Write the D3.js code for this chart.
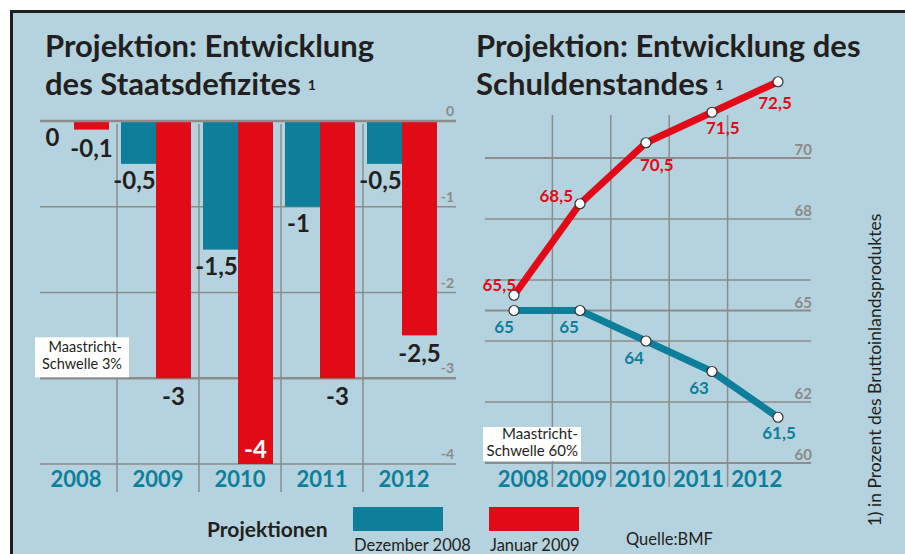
<!DOCTYPE html>
<html><head><meta charset="utf-8">
<script src="https://cdn.jsdelivr.net/npm/d3@7"></script>
<style>
body{margin:0;background:#fff;}
svg{display:block;font-family:Lato,"Open Sans",sans-serif;}
</style>
</head><body>
<svg id="c" width="905" height="554"></svg>
<script>
// ---------- data ----------
const years = ["2008", "2009", "2010", "2011", "2012"];
const seriesNames = ["Dezember 2008", "Januar 2009"];
const deficitDez = [0, -0.5, -1.5, -1, -0.5];
const deficitJan = [-0.1, -3, -4, -3, -2.5];
const deficitTicks = [0, -1, -2, -3, -4];
const debtDez = [65, 65, 64, 63, 61.5];
const debtJan = [65.5, 68.5, 70.5, 71.5, 72.5];
const debtGrid = [70, 68, 66, 65, 64, 62, 60];
const debtTickLabels = [70, 68, 65, 62, 60];
const deficitThreshold = -3;
const debtThreshold = 60;
const titleLeft = ["Projektion: Entwicklung", "des Staatsdefizites"];
const titleRight = ["Projektion: Entwicklung des", "Schuldenstandes"];
const footnote = "1) in Prozent des Bruttoinlandsproduktes";
const source = "Quelle:BMF";
const legendTitle = "Projektionen";
const thresholdLeftText = ["Maastricht-", "Schwelle 3%"];
const thresholdRightText = ["Maastricht-", "Schwelle 60%"];

// label placement around line points (layout only)
const janLabelPlace = [
  {a: "end", dx: 2, dy: -4}, {a: "end", dx: -7, dy: -2},
  {a: "start", dx: -6, dy: 28}, {a: "start", dx: -6, dy: 22}, {a: "middle", dx: -3, dy: 27}
];
const dezLabelPlace = [
  {a: "middle", dx: -10, dy: 22}, {a: "middle", dx: -11, dy: 22},
  {a: "middle", dx: -12, dy: 23}, {a: "middle", dx: -13, dy: 22}, {a: "middle", dx: 1, dy: 22}
];

// ---------- style ----------
const C = {bg: "#b5d3df", teal: "#0e7f9b", red: "#e20a17", grid: "#8c8c8c",
           tick: "#8a8a8a", text: "#231f20", border: "#1e1e1e"};
const loc = d3.formatLocale({decimal: ",", thousands: ".", grouping: [3], currency: ["", "€"], minus: "-"});
const fmt = loc.format("");

const svg = d3.select("#c");
const W = 905, H = 554;
svg.append("rect").attr("width", W).attr("height", H).attr("fill", "#fff");
svg.append("rect").attr("x", 11).attr("y", 11).attr("width", W - 11).attr("height", H - 11).attr("fill", C.bg);
svg.append("path").attr("d", "M11.5,554 V11.5 H905").attr("stroke", C.border)
  .attr("stroke-width", 3).attr("fill", "none");

// ---------- titles ----------
function title(x, lines) {
  const t = svg.append("text").attr("x", x).attr("y", 57).attr("fill", C.text)
    .attr("font-size", 31).attr("font-weight", 700);
  t.append("tspan").attr("x", x).attr("y", 57).text(lines[0]);
  t.append("tspan").attr("x", x).attr("y", 95).text(lines[1]);
  t.append("tspan").attr("dx", 7).attr("dy", -5).attr("font-size", 14).text("1");
}
title(45, titleLeft);
title(476, titleRight);

// ---------- left chart: deficit bars ----------
const xL = d3.scaleBand().domain(years).range([35, 445]);
const xLs = d3.scaleBand().domain(seriesNames).range([4, 74]);
const yL = d3.scaleLinear().domain([0, -4]).range([121, 464]);
const gL = svg.append("g");

gL.selectAll("line.h").data(deficitTicks.filter(d => d !== 0)).join("line")
  .attr("x1", 40).attr("x2", 456).attr("y1", d => yL(d)).attr("y2", d => yL(d))
  .attr("stroke", C.grid).attr("stroke-width", d => d === deficitThreshold ? 2.5 : 1.5);
gL.selectAll("line.v").data(years.slice(1)).join("line")
  .attr("x1", d => xL(d)).attr("x2", d => xL(d)).attr("y1", 124).attr("y2", 492)
  .attr("stroke", C.grid).attr("stroke-width", 1.5);

// threshold box
const bxL = xL.range()[0], byL = yL(deficitThreshold) - 41;
gL.append("rect").attr("x", bxL).attr("y", byL).attr("width", 94).attr("height", 40).attr("fill", "#fff");
gL.append("text").attr("text-anchor", "end").attr("font-size", 14.5).attr("fill", C.text)
  .selectAll("tspan").data(thresholdLeftText).join("tspan")
  .attr("x", bxL + 87).attr("y", (d, i) => byL + 14.5 + i * 17).text(d => d);

const barData = years.map((y, i) => [
  {year: y, s: seriesNames[0], v: deficitDez[i], c: C.teal},
  {year: y, s: seriesNames[1], v: deficitJan[i], c: C.red}
]).flat();

gL.selectAll("rect.bar").data(barData).join("rect")
  .attr("x", d => xL(d.year) + xLs(d.s)).attr("width", xLs.bandwidth())
  .attr("y", yL(0)).attr("height", d => yL(d.v) - yL(0)).attr("fill", d => d.c);

gL.append("line").attr("x1", 40).attr("x2", 456).attr("y1", yL(0)).attr("y2", yL(0))
  .attr("stroke", C.grid).attr("stroke-width", 2.5);

gL.selectAll("text.tick").data(deficitTicks).join("text")
  .attr("x", 454).attr("y", d => yL(d) - 5).attr("text-anchor", "end")
  .attr("font-size", 14).attr("font-weight", 700).attr("fill", C.tick).text(d => fmt(d));

const yMinL = yL(yL.domain()[1]);
gL.selectAll("text.val").data(barData).join("text")
  .attr("text-anchor", "middle").attr("font-size", 24).attr("font-weight", 700)
  .attr("x", d => xL(d.year) + xLs(d.s) + xLs.bandwidth() / 2 - (d.s === seriesNames[0] ? 4 : 0))
  .attr("y", d => {
    const yy = yL(d.v) + (d.s === seriesNames[0] ? 25 : 27);
    return yy > yMinL ? yL(d.v) - 6 : yy;
  })
  .attr("fill", d => (yL(d.v) + 27 > yMinL) ? "#fff" : C.text)
  .text(d => fmt(d.v));

gL.selectAll("text.year").data(years).join("text")
  .attr("x", d => xL(d) + xL.bandwidth() / 2).attr("y", 487).attr("text-anchor", "middle")
  .attr("font-size", 22).attr("font-weight", 700).attr("fill", C.teal).text(d => d);

// ---------- right chart: debt lines ----------
const xRb = d3.scaleBand().domain(years).range([494, 786]);
const xRp = d3.scalePoint().domain(years).range([514, 778]);
const yR = d3.scaleLinear().domain([60, 70]).range([463, 158]);
const gR = svg.append("g");

gR.selectAll("line.v").data(years.slice(1)).join("line")
  .attr("x1", d => xRb(d)).attr("x2", d => xRb(d)).attr("y1", 115).attr("y2", 487)
  .attr("stroke", C.grid).attr("stroke-width", 1.5);
gR.selectAll("line.h").data(debtGrid).join("line")
  .attr("x1", 485).attr("x2", 811).attr("y1", d => yR(d)).attr("y2", d => yR(d))
  .attr("stroke", C.grid).attr("stroke-width", d => (d % 5 === 0) ? 2.2 : 1.3);
gR.selectAll("text.tick").data(debtTickLabels).join("text")
  .attr("x", 812).attr("y", d => yR(d) - 3).attr("text-anchor", "end")
  .attr("font-size", 15).attr("font-weight", 700).attr("fill", C.tick).text(d => fmt(d));

const bxR = 483, byR = yR(debtThreshold) - 36;
gR.append("rect").attr("x", bxR).attr("y", byR).attr("width", 98).attr("height", 34).attr("fill", "#fff");
gR.append("text").attr("text-anchor", "end").attr("font-size", 15).attr("fill", C.text)
  .selectAll("tspan").data(thresholdRightText).join("tspan")
  .attr("x", bxR + 95).attr("y", (d, i) => byR + 12 + i * 17).text(d => d);

const line = d3.line().x((d, i) => xRp(years[i])).y(d => yR(d));
gR.append("path").attr("d", line(debtDez)).attr("fill", "none").attr("stroke", C.teal)
  .attr("stroke-width", 7).attr("stroke-linejoin", "round");
gR.append("path").attr("d", line(debtJan)).attr("fill", "none").attr("stroke", C.red)
  .attr("stroke-width", 7).attr("stroke-linejoin", "round");

const pts = [
  ...debtDez.map((v, i) => ({v, i, c: C.teal, p: dezLabelPlace[i]})),
  ...debtJan.map((v, i) => ({v, i, c: C.red, p: janLabelPlace[i]}))
];
gR.selectAll("circle").data(pts).join("circle")
  .attr("cx", d => xRp(years[d.i])).attr("cy", d => yR(d.v)).attr("r", 5)
  .attr("fill", "#fff").attr("stroke", "#333").attr("stroke-width", 1.2);
gR.selectAll("text.val").data(pts).join("text")
  .attr("x", d => xRp(years[d.i]) + d.p.dx).attr("y", d => yR(d.v) + d.p.dy)
  .attr("text-anchor", d => d.p.a).attr("font-size", 17).attr("font-weight", 700)
  .attr("fill", d => d.c).text(d => fmt(d.v));

gR.selectAll("text.year").data(years).join("text")
  .attr("x", d => xRb(d) + xRb.bandwidth() / 2).attr("y", 487).attr("text-anchor", "middle")
  .attr("font-size", 22).attr("font-weight", 700).attr("fill", C.teal).text(d => d);

// ---------- legend / notes ----------
svg.append("text").attr("x", 207).attr("y", 537).attr("font-size", 21).attr("font-weight", 700)
  .attr("fill", C.text).text(legendTitle);
const legX = d3.scaleOrdinal().domain(seriesNames).range([353, 489]);
const legC = d3.scaleOrdinal().domain(seriesNames).range([C.teal, C.red]);
svg.selectAll("rect.leg").data(seriesNames).join("rect")
  .attr("x", d => legX(d)).attr("y", 507).attr("width", 90).attr("height", 24).attr("fill", d => legC(d));
svg.selectAll("text.leg").data(seriesNames).join("text")
  .attr("x", d => legX(d) + 1).attr("y", 551).attr("font-size", 16.5).attr("fill", C.text).text(d => d);
svg.append("text").attr("x", 626).attr("y", 545).attr("font-size", 16.5).attr("fill", C.text).text(source);
svg.append("text").attr("transform", "translate(881,370) rotate(-90)").attr("text-anchor", "middle")
  .attr("font-size", 17.5).attr("fill", C.text).text(footnote);
</script>
</body></html>
